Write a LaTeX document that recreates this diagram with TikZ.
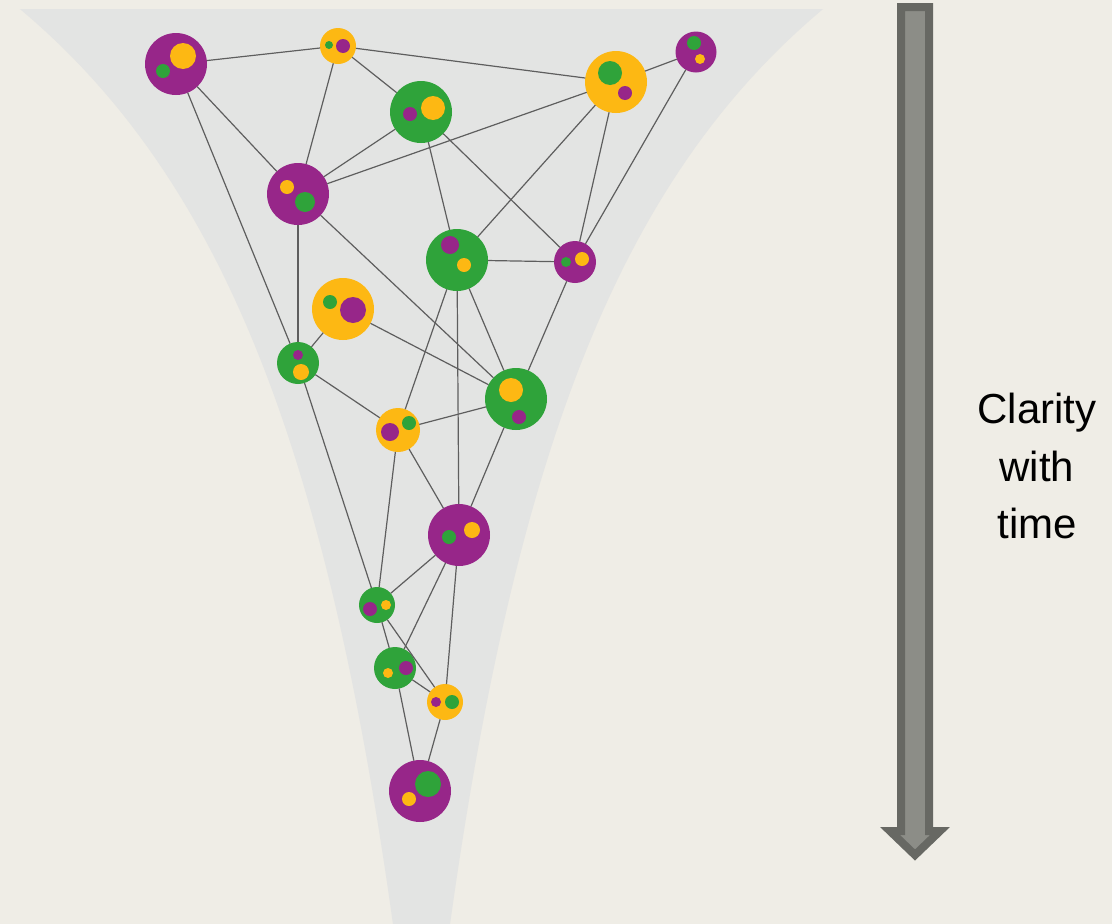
\documentclass[tikz,border=0pt]{standalone}
\usepackage{fontspec}
\setmainfont{Liberation Sans}
\usepackage{tikz}

\definecolor{paper}{HTML}{EFEDE6}
\definecolor{funnel}{HTML}{E3E4E3}
\definecolor{plum}{HTML}{972689}
\definecolor{sun}{HTML}{FDB813}
\definecolor{leaf}{HTML}{2FA33A}
\definecolor{linkgray}{HTML}{5E5E5E}
\definecolor{shaftdark}{HTML}{676863}
\definecolor{shaftlight}{HTML}{8C8D87}

\begin{document}
\begin{tikzpicture}[x=1pt,y=-1pt]
\tikzset{blob/.style = {shape=circle,fill=#1,inner sep=0pt,outer sep=0pt}}
\tikzset{link/.style = {draw=linkgray,line width=1.2pt}}

\useasboundingbox (0,0) rectangle (1112,924);
\fill[paper] (0,0) rectangle (1112,924);

% funnel behind the network
\fill[funnel] plot[domain=9:924,samples=80] ({421.5+2697.56/((\x+466.8)/100)-165.4},\x)
  -- plot[domain=924:9,samples=80] ({421.5-2697.56/((\x+466.8)/100)+165.4},\x)
  -- cycle;

% bubbles
\node[blob=plum,minimum size=62pt] (A) at (176,64) {};
\node[blob=sun,minimum size=36pt] (B) at (338,46) {};
\node[blob=leaf,minimum size=62pt] (C) at (421,112) {};
\node[blob=sun,minimum size=62pt] (D) at (616,82) {};
\node[blob=plum,minimum size=41pt] (E) at (696,52) {};
\node[blob=plum,minimum size=62pt] (F) at (298,194) {};
\node[blob=leaf,minimum size=62pt] (G) at (457,260) {};
\node[blob=plum,minimum size=42pt] (H) at (575,262) {};
\node[blob=sun,minimum size=62pt] (I) at (343,309) {};
\node[blob=leaf,minimum size=42pt] (J) at (298,363) {};
\node[blob=leaf,minimum size=62pt] (K) at (516,399) {};
\node[blob=sun,minimum size=44pt] (L) at (398,430) {};
\node[blob=plum,minimum size=62pt] (M) at (459,535) {};
\node[blob=leaf,minimum size=36pt] (N) at (377,605) {};
\node[blob=leaf,minimum size=42pt] (O) at (395,668) {};
\node[blob=sun,minimum size=36pt] (P) at (445,702) {};
\node[blob=plum,minimum size=62pt] (Q) at (420,791) {};

% dots inside the bubbles
\fill[sun] (183,56) circle (13pt);  \fill[leaf] (163,71) circle (7pt);
\fill[leaf] (329,45) circle (4pt);  \fill[plum] (343,46) circle (7pt);
\fill[plum] (410,114) circle (7pt); \fill[sun] (433,108) circle (12pt);
\fill[leaf] (610,73) circle (12pt); \fill[plum] (625,93) circle (7pt);
\fill[leaf] (694,43) circle (7pt);  \fill[sun] (700,59) circle (5pt);
\fill[sun] (287,187) circle (7pt);  \fill[leaf] (305,202) circle (10pt);
\fill[plum] (450,245) circle (9pt); \fill[sun] (464,265) circle (7pt);
\fill[leaf] (566,262) circle (5pt); \fill[sun] (582,259) circle (7pt);
\fill[leaf] (330,302) circle (7pt); \fill[plum] (353,310) circle (13pt);
\fill[plum] (298,355) circle (5pt); \fill[sun] (301,372) circle (8pt);
\fill[sun] (511,390) circle (12pt); \fill[plum] (519,417) circle (7pt);
\fill[plum] (390,432) circle (9pt); \fill[leaf] (409,423) circle (7pt);
\fill[leaf] (449,537) circle (7pt); \fill[sun] (472,530) circle (8pt);
\fill[plum] (370,609) circle (7pt); \fill[sun] (386,605) circle (5pt);
\fill[sun] (388,673) circle (5pt);  \fill[plum] (406,668) circle (7pt);
\fill[plum] (436,702) circle (5pt); \fill[leaf] (452,702) circle (7pt);
\fill[leaf] (428,784) circle (13pt); \fill[sun] (409,799) circle (7pt);

% links
\draw[link] (A) -- (B);
\draw[link] (A) -- (F);
\draw[link] (A) -- (J);
\draw[link] (B) -- (D);
\draw[link] (B) -- (C);
\draw[link] (B) -- (F);
\draw[link] (C) -- (F);
\draw[link] (C) -- (G);
\draw[link] (C) -- (H);
\draw[link] (D) -- (E);
\draw[link] (D) -- (F);
\draw[link] (D) -- (G);
\draw[link] (D) -- (H);
\draw[link] (E) -- (H);
\draw[link] (F) -- (J);
\draw[link] (F) -- (K);
\draw[link] (G) -- (H);
\draw[link] (G) -- (L);
\draw[link] (G) -- (M);
\draw[link] (G) -- (K);
\draw[link] (H) -- (K);
\draw[link] (I) -- (J);
\draw[link] (I) -- (K);
\draw[link] (J) -- (L);
\draw[link] (J) -- (N);
\draw[link] (L) -- (K);
\draw[link] (L) -- (M);
\draw[link] (L) -- (N);
\draw[link] (K) -- (M);
\draw[link] (M) -- (N);
\draw[link] (M) -- (O);
\draw[link] (M) -- (P);
\draw[link] (N) -- (O);
\draw[link] (N) -- (P);
\draw[link] (O) -- (P);
\draw[link] (O) -- (Q);
\draw[link] (P) -- (Q);

% time arrow
\draw[draw=shaftdark,fill=shaftlight,line width=8pt,miter limit=10]
  (901,7) -- (929,7) -- (929,831) -- (940,831) -- (915,855) -- (890,831) -- (901,831) -- cycle;

\node[align=center,font=\fontsize{42}{57.5}\selectfont] (T) at (1037,466) {Clarity\\with\\time};

\end{tikzpicture}
\end{document}
